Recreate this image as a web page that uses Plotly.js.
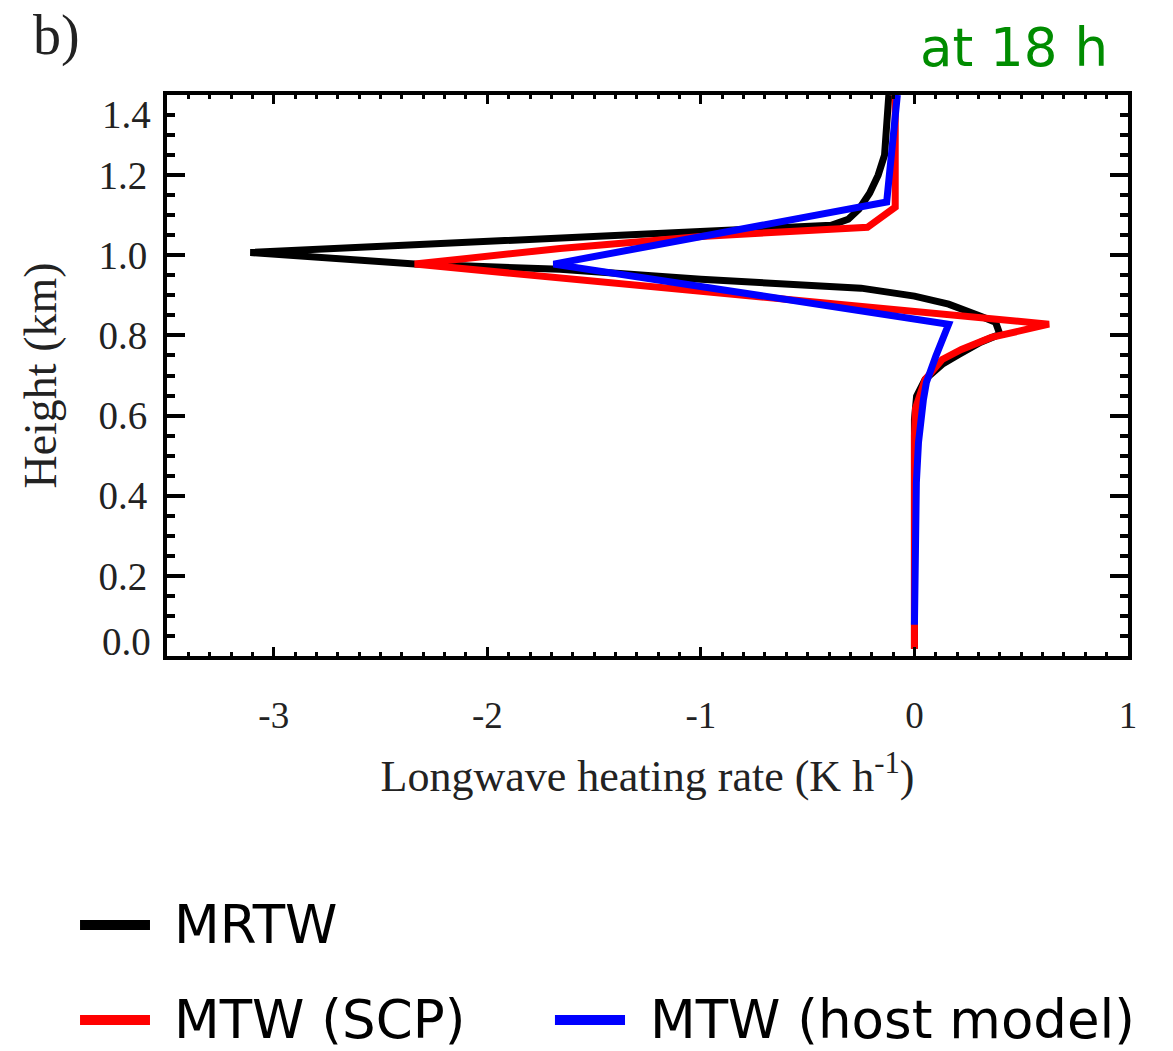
<!DOCTYPE html>
<html>
<head>
<meta charset="utf-8">
<script src="https://cdn.plot.ly/plotly-3.0.1.min.js"></script>
<style>
html,body{margin:0;padding:0;background:#fff;}
#chart{width:1173px;height:1051px;}
</style>
</head>
<body>
<div id="chart"></div>
<script>
// Longwave heating rate (K/h) vs height (km)
var mrtwX = [-0.12, -0.13, -0.14, -0.17, -0.21, -0.26, -0.31, -0.39, -3.11, -2.34, -1.66, -1.00, -0.25, 0.00, 0.16, 0.31, 0.38, 0.40, 0.31, 0.21, 0.13, 0.05, 0.01, 0.00, 0.00];
var mrtwY = [1.40, 1.315, 1.25, 1.20, 1.155, 1.115, 1.09, 1.075, 1.007, 0.978, 0.965, 0.94, 0.918, 0.898, 0.878, 0.848, 0.833, 0.803, 0.783, 0.753, 0.728, 0.69, 0.648, 0.59, 0.018];

var scpX = [-0.09, -0.09, -0.22, -0.53, -1.00, -1.66, -2.34, 0.63, 0.36, 0.22, 0.13, 0.05, 0.02, 0.005, 0.00, 0.00];
var scpY = [1.40, 1.12, 1.07, 1.062, 1.047, 1.017, 0.978, 0.828, 0.795, 0.765, 0.74, 0.69, 0.648, 0.618, 0.55, 0.018];

var hostX = [-0.08, -0.13, -1.69, 0.16, 0.10, 0.056, 0.042, 0.019, 0.009, 0.00, 0.00];
var hostY = [1.40, 1.133, 0.978, 0.828, 0.748, 0.683, 0.64, 0.533, 0.433, 0.24, 0.078];

var seriesNames = ['MRTW', 'MTW (SCP)', 'MTW (host model)'];
var seriesColors = ['#000000', '#ff0000', '#0000ff'];

var xTickVals = [-3, -2, -1, 0, 1];
var xTickText = ['-3', '-2', '-1', '0', '1'];
var yTickVals = [0.2, 0.4, 0.6, 0.8, 1.0, 1.2];
var yTickText = ['0.2', '0.4', '0.6', '0.8', '1.0', '1.2'];
var yEdgeVals = [0.0, 1.4];
var yEdgeText = ['0.0', '1.4'];

var serif = '"Liberation Serif", "Times New Roman", serif';
var sans = '"DejaVu Sans", Verdana, sans-serif';

var traces = [
  {x: mrtwX, y: mrtwY, name: seriesNames[0]},
  {x: scpX, y: scpY, name: seriesNames[1]},
  {x: hostX, y: hostY, name: seriesNames[2]}
].map(function(t, i){
  return {x: t.x, y: t.y, name: t.name, type: 'scatter', mode: 'lines',
    line: {color: seriesColors[i], width: 7}, showlegend: false, hoverinfo: 'x+y+name'};
});

var annotations = [];
// edge y tick labels (shifted inward, as in the original)
annotations.push({xref: 'paper', yref: 'y', x: 0, y: yEdgeVals[0], text: yEdgeText[0],
  xanchor: 'right', yanchor: 'middle', xshift: -14, yshift: 15, showarrow: false,
  font: {family: serif, size: 39, color: '#222'}});
annotations.push({xref: 'paper', yref: 'y', x: 0, y: yEdgeVals[1], text: yEdgeText[1],
  xanchor: 'right', yanchor: 'middle', xshift: -14, yshift: -19, showarrow: false,
  font: {family: serif, size: 39, color: '#222'}});
// panel label
annotations.push({xref: 'paper', yref: 'paper', x: -0.141, y: 1.106, text: 'b)',
  xanchor: 'left', yanchor: 'middle', showarrow: false,
  font: {family: serif, size: 56, color: '#222'}});
annotations.push({xref: 'paper', yref: 'paper', x: 0.9813, y: 1.084, text: 'at 18 h',
  xanchor: 'right', yanchor: 'middle', showarrow: false,
  font: {family: sans, size: 53, color: 'rgb(0,140,0)'}});
// legend texts
var legPos = [
  {lx0: -0.0905, lx1: -0.0177, y: -0.4795, tx: 0.0052},
  {lx0: -0.0905, lx1: -0.0177, y: -0.6488, tx: 0.0052},
  {lx0: 0.4037, lx1: 0.4766, y: -0.6488, tx: 0.5005}
];
var shapes = [];
legPos.forEach(function(p, i){
  shapes.push({type: 'line', xref: 'paper', yref: 'paper', x0: p.lx0, x1: p.lx1, y0: p.y, y1: p.y,
    line: {color: seriesColors[i], width: 10}});
  annotations.push({xref: 'paper', yref: 'paper', x: p.tx, y: p.y, text: seriesNames[i],
    xanchor: 'left', yanchor: 'middle', showarrow: false,
    font: {family: sans, size: 53, color: '#000'}});
});

var layout = {
  width: 1173, height: 1051,
  margin: {l: 167, r: 45, t: 95, b: 395, pad: 0},
  paper_bgcolor: '#fff', plot_bgcolor: '#fff',
  showlegend: false,
  xaxis: {
    range: [-3.5, 1.0], showgrid: false, zeroline: false,
    showline: true, linecolor: '#000', linewidth: 4, mirror: 'allticks',
    ticks: 'inside', ticklen: 9, tickwidth: 3, tickcolor: '#000',
    tickvals: xTickVals, ticktext: xTickText,
    ticklabelstandoff: 24,
    tickfont: {family: serif, size: 37, color: '#222'},
    minor: {dtick: 0.1, tick0: 0, ticks: 'inside', ticklen: 4, tickwidth: 3, tickcolor: '#000', showgrid: false},
    title: {text: 'Longwave heating rate (K h<sup>-1</sup>)', standoff: 26,
      font: {family: serif, size: 44, color: '#222'}}
  },
  yaxis: {
    range: [0, 1.4], showgrid: false, zeroline: false,
    showline: true, linecolor: '#000', linewidth: 4, mirror: 'allticks',
    ticks: 'inside', ticklen: 18, tickwidth: 4, tickcolor: '#000',
    tickvals: yTickVals, ticktext: yTickText,
    ticklabelstandoff: 8,
    tickfont: {family: serif, size: 39, color: '#222'},
    minor: {dtick: 0.05, tick0: 0, ticks: 'inside', ticklen: 8, tickwidth: 4, tickcolor: '#000', showgrid: false},
    title: {text: 'Height (km)', standoff: 28,
      font: {family: serif, size: 46, color: '#222'}}
  },
  annotations: annotations,
  shapes: shapes
};

Plotly.newPlot('chart', traces, layout, {displayModeBar: false, staticPlot: true});
</script>
</body>
</html>
